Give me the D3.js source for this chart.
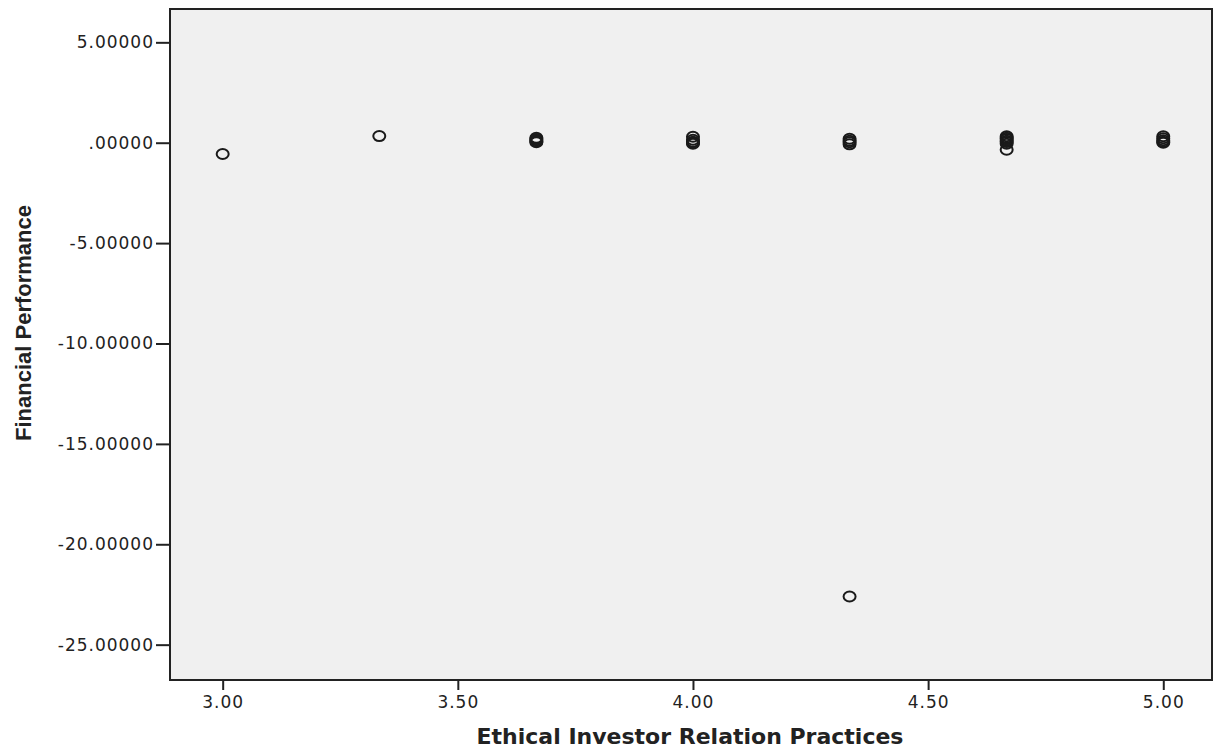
<!DOCTYPE html>
<meta charset="utf-8">
<style>
  body { margin: 0; background: #fff; }
  .tick text { font-family: "DejaVu Sans", sans-serif; font-size: 17px; letter-spacing: 1px; fill: #222; }
</style>
<body>
<script src="https://cdn.jsdelivr.net/npm/d3@7"></script>
<script>
var width = 1213,
    height = 748;

// x = Ethical Investor Relation Practices, y = Financial Performance
var xVals = [3.00, 3.333,
  3.667, 3.667, 3.667, 3.667, 3.667,
  4.00, 4.00, 4.00, 4.00, 4.00,
  4.333, 4.333, 4.333, 4.333, 4.333,
  4.667, 4.667, 4.667, 4.667, 4.667, 4.667, 4.667,
  5.00, 5.00, 5.00, 5.00, 5.00];
var yVals = [-0.56, 0.33,
  0.25, 0.18, 0.12, 0.06, 0.02,
  0.3, 0.15, 0.05, 0.0, -0.05,
  0.2, 0.1, 0.02, -0.08, -22.6,
  0.32, 0.25, 0.18, 0.1, 0.03, -0.05, -0.35,
  0.32, 0.22, 0.12, 0.05, 0.0];

var xTicks = [3.00, 3.50, 4.00, 4.50, 5.00];
var yTicks = [5, 0, -5, -10, -15, -20, -25];

var xTitle = "Ethical Investor Relation Practices",
    yTitle = "Financial Performance";

var plotLeft = 170, plotRight = 1212, plotTop = 9, plotBottom = 680;

var x = d3.scaleLinear().domain([2.888, 5.1036]).range([plotLeft, plotRight]);
var y = d3.scaleLinear().domain([6.66, -26.76]).range([plotTop, plotBottom]);

var svg = d3.select("body").append("svg")
    .attr("width", width)
    .attr("height", height);

svg.append("rect")
    .attr("x", plotLeft)
    .attr("y", plotTop)
    .attr("width", plotRight - plotLeft)
    .attr("height", plotBottom - plotTop)
    .attr("fill", "#f0f0f0")
    .attr("stroke", "#222")
    .attr("stroke-width", 2);

// SPSS style: ".00000", "-5.00000" with a plain hyphen
var fmtY = function(d) {
  var s = d3.format(".5f")(d).replace("\u2212", "-");
  return s.replace(/^0\./, ".").replace(/^-0\./, "-.");
};

var xAxis = svg.append("g")
    .attr("transform", "translate(0," + plotBottom + ")")
    .call(d3.axisBottom(x).tickValues(xTicks).tickFormat(d3.format(".2f")).tickSize(10).tickPadding(6));
xAxis.select(".domain").remove();
xAxis.selectAll(".tick line").attr("stroke", "#222").attr("stroke-width", 2);

var yAxis = svg.append("g")
    .attr("transform", "translate(" + plotLeft + ",0)")
    .call(d3.axisLeft(y).tickValues(yTicks).tickFormat(fmtY).tickSize(14).tickPadding(2));
yAxis.select(".domain").remove();
yAxis.selectAll(".tick line").attr("stroke", "#222").attr("stroke-width", 2);

svg.append("g").selectAll("ellipse")
  .data(xVals)
  .enter().append("ellipse")
    .attr("cx", function(d) { return x(d); })
    .attr("cy", function(d, i) { return y(yVals[i]); })
    .attr("rx", 6)
    .attr("ry", 5)
    .attr("fill", "none")
    .attr("stroke", "#1a1a1a")
    .attr("stroke-width", 2);

svg.append("text")
    .attr("x", 690)
    .attr("y", 744)
    .attr("text-anchor", "middle")
    .style("font-family", "'DejaVu Sans', sans-serif")
    .style("font-weight", "bold")
    .style("font-size", "22px")
    .attr("fill", "#222")
    .text(xTitle);

svg.append("text")
    .attr("transform", "translate(31,323) rotate(-90)")
    .attr("text-anchor", "middle")
    .style("font-family", "'Liberation Sans Narrow', 'Arial Narrow', 'Liberation Sans', sans-serif")
    .style("font-weight", "bold")
    .style("font-size", "22px")
    .attr("fill", "#222")
    .text(yTitle);
</script>
</body>
